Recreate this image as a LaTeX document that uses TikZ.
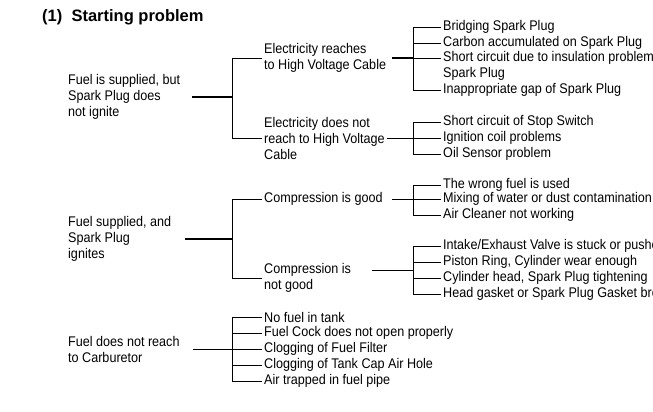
\documentclass[tikz,border=0pt]{standalone}
\usepackage{fontspec}
\setmainfont{Liberation Sans}
\usetikzlibrary{positioning}

\begin{document}
\begin{tikzpicture}[
    x=1pt, y=-1pt,
    cause/.style={anchor=west, align=left, inner sep=2pt, font=\addfontfeature{FakeStretch=0.9}\fontsize{14}{16}\selectfont},
    branch/.style={line width=0.8pt},
    trunk/.style={line width=1.8pt}
]
\useasboundingbox (0,0) rectangle (653,412);
\clip (0,0) rectangle (653,412);

% Title
\node[anchor=west, inner sep=0pt, font=\fontsize{16.5}{18}\bfseries\selectfont] (title) at (42,17) {(1)\ \ Starting problem};

% Group 1: no spark
\node[cause] (nospark) at (66,97) {Fuel is supplied, but\\Spark Plug does\\not ignite};
\node[cause] (reach) at (262,58) {Electricity reaches\\to High Voltage Cable};
\node[cause] (noreach) at (262,138) {Electricity does not\\reach to High Voltage\\Cable};
\node[cause] (bridge) at (441,27) {Bridging Spark Plug};
\node[cause] (carbon) at (441,43) {Carbon accumulated on Spark Plug};
\node[cause] (short) at (441,58) {Short circuit due to insulation problem of};
\node[cause] (shortb) at (441,74) {Spark Plug};
\node[cause] (gap) at (441,90) {Inappropriate gap of Spark Plug};
\node[cause] (stop) at (441,122) {Short circuit of Stop Switch};
\node[cause] (coil) at (441,138) {Ignition coil problems};
\node[cause] (oil) at (441,154) {Oil Sensor problem};

% Group 2: spark but no start
\node[cause] (spark) at (66,239) {Fuel supplied, and\\Spark Plug\\ignites};
\node[cause] (cgood) at (262,199) {Compression is good};
\node[cause] (cpoor) at (262,278) {Compression is\\not good};
\node[cause] (wrong) at (441,185) {The wrong fuel is used};
\node[cause] (water) at (441,199) {Mixing of water or dust contamination};
\node[cause] (air) at (441,215) {Air Cleaner not working};
\node[cause] (valve) at (441,246) {Intake/Exhaust Valve is stuck or pushed};
\node[cause] (ring) at (441,262) {Piston Ring, Cylinder wear enough};
\node[cause] (head) at (441,278) {Cylinder head, Spark Plug tightening};
\node[cause] (gasket) at (441,294) {Head gasket or Spark Plug Gasket broken};

% Group 3: no fuel
\node[cause] (nofuel) at (66,349) {Fuel does not reach\\to Carburetor};
\node[cause] (tank) at (262,317) {No fuel in tank};
\node[cause] (cock) at (262,333) {Fuel Cock does not open properly};
\node[cause] (filter) at (262,349) {Clogging of Fuel Filter};
\node[cause] (cap) at (262,365) {Clogging of Tank Cap Air Hole};
\node[cause] (pipe) at (262,381) {Air trapped in fuel pipe};

% Junctions
\coordinate (j1) at (232,97);
\coordinate (j2) at (413,58);
\coordinate (j3) at (413,138);
\coordinate (j4) at (232,239);
\coordinate (j5) at (413,199);
\coordinate (j6) at (413,270);
\coordinate (cpo) at (372,270);
\coordinate (j7) at (232,349);

% Connections
\draw[trunk] (192,97) -- (j1);
\draw[branch] (j1) |- (reach.west);
\draw[branch] (j1) |- (noreach.west);
\draw[trunk] (392,58) -- (j2);
\foreach \n in {bridge,carbon,short,gap} \draw[branch] (j2) |- (\n.west);
\draw[branch] (noreach.east) -- (j3);
\foreach \n in {stop,coil,oil} \draw[branch] (j3) |- (\n.west);

\draw[trunk] (185,239) -- (j4);
\draw[branch] (j4) |- (cgood.west);
\draw[branch] (j4) |- (cpoor.west);
\draw[branch] (392,199) -- (j5);
\foreach \n in {wrong,water,air} \draw[branch] (j5) |- (\n.west);
\draw[branch] (cpo) -- (j6);
\foreach \n in {valve,ring,head,gasket} \draw[branch] (j6) |- (\n.west);

\draw[branch] (193,349) -- (j7);
\foreach \n in {tank,cock,filter,cap,pipe} \draw[branch] (j7) |- (\n.west);

\end{tikzpicture}
\end{document}
